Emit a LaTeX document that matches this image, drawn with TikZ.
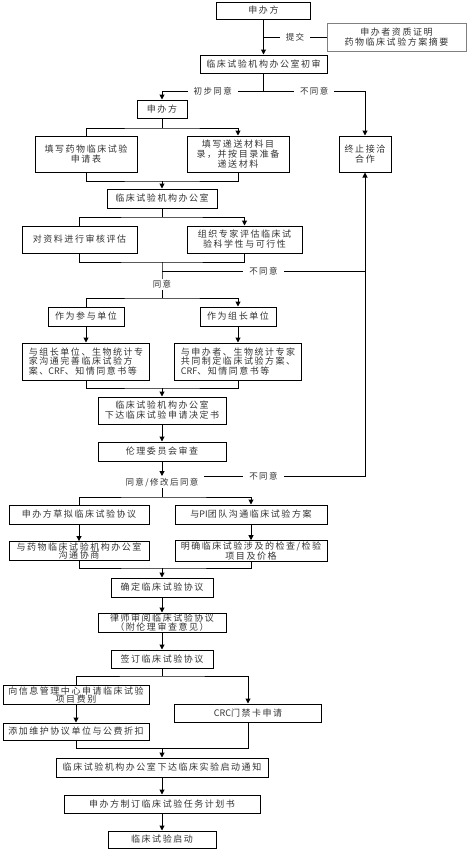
\documentclass[tikz,border=0pt]{standalone}
\usepackage{fontspec}
\usetikzlibrary{arrows.meta}
\newfontfamily\cjk[LetterSpace=17]{Noto Sans CJK SC}
\newfontfamily\latn{Noto Sans CJK SC}
\newcommand{\lat}[1]{{\latn #1}}
\begin{document}
\begin{tikzpicture}[x=1pt,y=-1pt,line width=1pt,
        >={Stealth[length=5pt,width=5pt,inset=0pt]},
        blk/.style={draw, line width=1pt, inner sep=1pt, align=center,
            font=\cjk\fontsize{9}{10}\selectfont, text=black!80},
        lbl/.style={fill=white, inner xsep=6pt, inner ysep=1.5pt,
            font=\cjk\fontsize{8.5}{9}\selectfont, text=black!80}]
    \useasboundingbox (0,0) rectangle (467,849);
    % top part
    \node[blk, minimum width=94pt, minimum height=17pt] (sp1) at (263.5,10.5) {申办方};
    \node[blk, draw=black!50, minimum width=139pt, minimum height=28pt] (doc) at (396.5,37) {申办者资质证明\\药物临床试验方案摘要};
    \node[blk, minimum width=127pt, minimum height=18pt] (chs) at (263.5,64) {临床试验机构办公室初审};
    \node[blk, minimum width=50pt, minimum height=18pt] (sp2) at (162,109) {申办方};
    \node[blk, minimum width=102pt, minimum height=36pt] (fill1) at (86,154) {填写药物临床试验\\申请表};
    \node[blk, minimum width=102pt, minimum height=36pt] (fill2) at (238,154) {填写递送材料目\\录，并按目录准备\\递送材料};
    \node[blk, minimum width=52pt, minimum height=36pt] (term) at (365,154) {终止接洽\\合作};
    \node[blk, minimum width=110pt, minimum height=19pt] (off1) at (162,198.5) {临床试验机构办公室};
    \node[blk, minimum width=115pt, minimum height=27pt] (rev1) at (79.5,239.5) {对资料进行审核评估};
    \node[blk, minimum width=115pt, minimum height=27pt] (rev2) at (244.5,239.5) {组织专家评估临床试\\验科学性与可行性};
    \node[blk, minimum width=76pt, minimum height=19pt] (par) at (86,316.5) {作为参与单位};
    \node[blk, minimum width=76pt, minimum height=19pt] (lead) at (238,316.5) {作为组长单位};
    \node[blk, align=left, minimum width=127pt, minimum height=37pt,
        font=\cjk\fontsize{9}{9.5}\selectfont] (par2) at (86,361.5) {与组长单位、生物统计专\\家沟通完善临床试验方\\案、\lat{CRF}、知情同意书等};
    \node[blk, align=left, minimum width=127pt, minimum height=37pt,
        font=\cjk\fontsize{9}{9.5}\selectfont] (lead2) at (238,361.5) {与申办者、生物统计专家\\共同制定临床试验方案、\\\lat{CRF}、知情同意书等};
    \node[blk, minimum width=128pt, minimum height=27pt] (off2) at (162,410.5) {临床试验机构办公室\\下达临床试验申请决定书};
    \node[blk, minimum width=128pt, minimum height=19pt] (eth) at (162,451.5) {伦理委员会审查};
    % agreement part
    \node[blk, minimum width=140pt, minimum height=19pt] (draft) at (79,514.5) {申办方草拟临床试验协议};
    \node[blk, minimum width=152pt, minimum height=19pt] (pi) at (251,514.5) {与\lat{PI}团队沟通临床试验方案};
    \node[blk, minimum width=140pt, minimum height=18pt,
        font=\cjk\fontsize{9}{8.5}\selectfont] (neg) at (79,551) {与药物临床试验机构办公室\\沟通协商};
    \node[blk, minimum width=152pt, minimum height=18pt,
        font=\cjk\fontsize{9}{8.5}\selectfont] (price) at (251,551) {明确临床试验涉及的检查/检验\\项目及价格};
    \node[blk, minimum width=102pt, minimum height=19pt] (conf) at (162,587.5) {确定临床试验协议};
    \node[blk, minimum width=128pt, minimum height=19pt,
        font=\cjk\fontsize{9}{8.5}\selectfont] (law) at (162,622.5) {律师审阅临床试验协议\\（附伦理审查意见）};
    \node[blk, minimum width=102pt, minimum height=18pt] (sign) at (162,659) {签订临床试验协议};
    \node[blk, minimum width=146pt, minimum height=18pt,
        font=\cjk\fontsize{9}{8.5}\selectfont] (fee) at (76,695) {向信息管理中心申请临床试验\\项目费别};
    \node[blk, minimum width=147pt, minimum height=18pt] (crc) at (248,713) {\lat{CRC}门禁卡申请};
    \node[blk, minimum width=146pt, minimum height=17pt] (disc) at (76,731.5) {添加维护协议单位与公费折扣};
    \node[blk, minimum width=212pt, minimum height=19pt] (notice) at (162,767.5) {临床试验机构办公室下达临床实验启动通知};
    \node[blk, minimum width=196pt, minimum height=18pt] (plan) at (162,804) {申办方制订临床试验任务计划书};
    \node[blk, minimum width=108pt, minimum height=17pt] (start) at (162,839.5) {临床试验启动};
    % junctions
    \coordinate (j1) at (263.5,91);
    \coordinate (j2) at (162,128);
    \coordinate (j3) at (162,181);
    \coordinate (j4) at (162,217);
    \coordinate (j5) at (162,262);
    \coordinate (j6) at (162,271);
    \coordinate (j7) at (162,298);
    \coordinate (j8) at (162,388);
    \coordinate (j9) at (162,476);
    \coordinate (j10) at (162,497);
    \coordinate (j11) at (162,568);
    \coordinate (j12) at (162,676);
    \coordinate (j13) at (162,748);
    % connectors
    \draw (sp1 |- doc) -- node[lbl]{提交} (doc);
    \draw (chs) -- (j1);
    \draw[->] (j1) -- node[lbl]{初步同意} (j1 -| sp2) -- (sp2);
    \draw[->] (j1) -- node[lbl]{不同意} (j1 -| term) -- (term);
    \draw (sp2) -- (j2);
    \draw (off1) -- (j4);
    \draw (j5) -- (j6) -- node[lbl]{同意} (j7);
    \draw (j6) -- node[lbl]{不同意} (j6 -| term);
    \draw[->] (j9) -- node[lbl]{不同意} (j9 -| term) -- (term);
    \draw (j9) -- node[lbl, pos=0.3]{同意/修改后同意} (j10);
    \draw (sign) -- (j12);
    \foreach \a/\b in {sp1/chs, j3/off1, j8/off2, off2/eth, eth/j9, par/par2, lead/lead2,
        draft/neg, pi/price, j11/conf, conf/law, law/sign, fee/disc, j13/notice,
        notice/plan, plan/start}
        \draw[->] (\a) -- (\b);
    \foreach \j/\a/\b in {j2/fill1/fill2, j4/rev1/rev2, j7/par/lead, j10/draft/pi, j12/fee/crc}
        \draw[->] (\a) |- (\j) -| (\b);
    \foreach \j/\a/\b in {j3/fill1/fill2, j5/rev1/rev2, j8/par2/lead2, j11/neg/price, j13/disc/crc}
        \draw (\a) |- (\j) -| (\b);
\end{tikzpicture}
\end{document}
